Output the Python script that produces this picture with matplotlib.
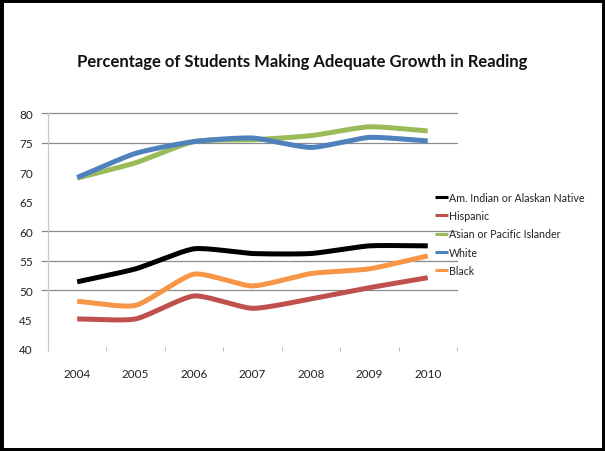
import numpy as np
import matplotlib
matplotlib.use("Agg")
import matplotlib.pyplot as plt
from matplotlib.patches import Rectangle
from matplotlib.ticker import FixedLocator

years = ["2004", "2005", "2006", "2007", "2008", "2009", "2010"]
am_indian = [51.4, 53.6, 57.0, 56.2, 56.2, 57.5, 57.5]
hispanic = [45.1, 45.1, 49.0, 46.9, 48.5, 50.4, 52.1]
asian_pacific = [69.0, 71.6, 75.2, 75.5, 76.2, 77.7, 77.0]
white = [69.1, 73.2, 75.2, 75.8, 74.2, 75.9, 75.3]
black = [48.1, 47.4, 52.7, 50.7, 52.8, 53.6, 55.8]

series_names = ["Am. Indian or Alaskan Native", "Hispanic",
                "Asian or Pacific Islander", "White", "Black"]
series_values = [am_indian, hispanic, asian_pacific, white, black]
series_colors = ["#000000", "#C0504D", "#9BBB59", "#4F81BD", "#F79646"]

y_ticks = [40, 45, 50, 55, 60, 65, 70, 75, 80]
grid_values = [50, 55, 60, 75, 80]


def smooth(xs, ys, n=30, tension=0.45):
    """Cardinal-spline curve through the points, like a spreadsheet's smoothed line."""
    xs = np.asarray(xs, float)
    ys = np.asarray(ys, float)
    px = np.concatenate([[2 * xs[0] - xs[1]], xs, [2 * xs[-1] - xs[-2]]])
    py = np.concatenate([[2 * ys[0] - ys[1]], ys, [2 * ys[-1] - ys[-2]]])
    out_x, out_y = [], []
    t = np.linspace(0, 1, n, endpoint=False)
    h00 = 2 * t ** 3 - 3 * t ** 2 + 1
    h10 = t ** 3 - 2 * t ** 2 + t
    h01 = -2 * t ** 3 + 3 * t ** 2
    h11 = t ** 3 - t ** 2
    for i in range(1, len(px) - 2):
        for arr, out in ((px, out_x), (py, out_y)):
            p0, p1, p2, p3 = arr[i - 1], arr[i], arr[i + 1], arr[i + 2]
            m1 = tension * (p2 - p0)
            m2 = tension * (p3 - p1)
            out.extend(h00 * p1 + h10 * m1 + h01 * p2 + h11 * m2)
    out_x.append(xs[-1])
    out_y.append(ys[-1])
    return np.array(out_x), np.array(out_y)


plt.rcParams["font.family"] = ["Lato", "DejaVu Sans"]

fig = plt.figure(figsize=(6.05, 4.52), dpi=100)
ax = fig.add_axes([0.0793, 0.2257, 0.676, 0.5215])

x = np.arange(len(years))
for name, vals, col in zip(series_names, series_values, series_colors):
    sx, sy = smooth(x, vals, tension=0.3)
    ax.plot(sx, sy, color=col, lw=3.6, label=name, solid_capstyle="butt")

for g in grid_values:
    ax.axhline(g, color="#8c8c8c", lw=0.9, zorder=0, xmin=-0.015, clip_on=False)

ax.set_xlim(-0.5, len(years) - 0.5)
ax.set_ylim(40, 80)
ax.set_yticks(y_ticks)
ax.set_xticks(x)
ax.set_xticklabels(years)
ax.xaxis.set_minor_locator(FixedLocator(np.arange(-0.5, len(years), 1.0)))
ax.tick_params(axis="x", which="major", length=0, pad=14, labelsize=8.5, labelcolor="#222222")
ax.tick_params(axis="x", which="minor", length=3, direction="inout", color="#b0b0b0")
ax.tick_params(axis="y", length=0, pad=11, labelsize=8.5, labelcolor="#222222")

for side in ("top", "right", "bottom"):
    ax.spines[side].set_visible(False)
ax.spines["left"].set_color("#c8c8c8")
ax.spines["left"].set_linewidth(0.9)

fig.text(0.5, 0.862, "Percentage of Students Making Adequate Growth in Reading",
         ha="center", va="center", fontsize=12, fontweight="bold", color="#111111")

leg = ax.legend(loc="upper left", bbox_to_anchor=(0.946, 0.667), frameon=False,
                fontsize=7.7, handlelength=1.25, handletextpad=0.05,
                labelspacing=0.68, borderaxespad=0, borderpad=0)
for line in leg.get_lines():
    line.set_linewidth(2.2)
for txt in leg.get_texts():
    txt.set_color("#222222")

fig.add_artist(Rectangle((0, 0), 1, 1, transform=fig.transFigure, fill=False,
                         lw=5, ec="black", clip_on=True))

fig.savefig("out.png", dpi=100)
